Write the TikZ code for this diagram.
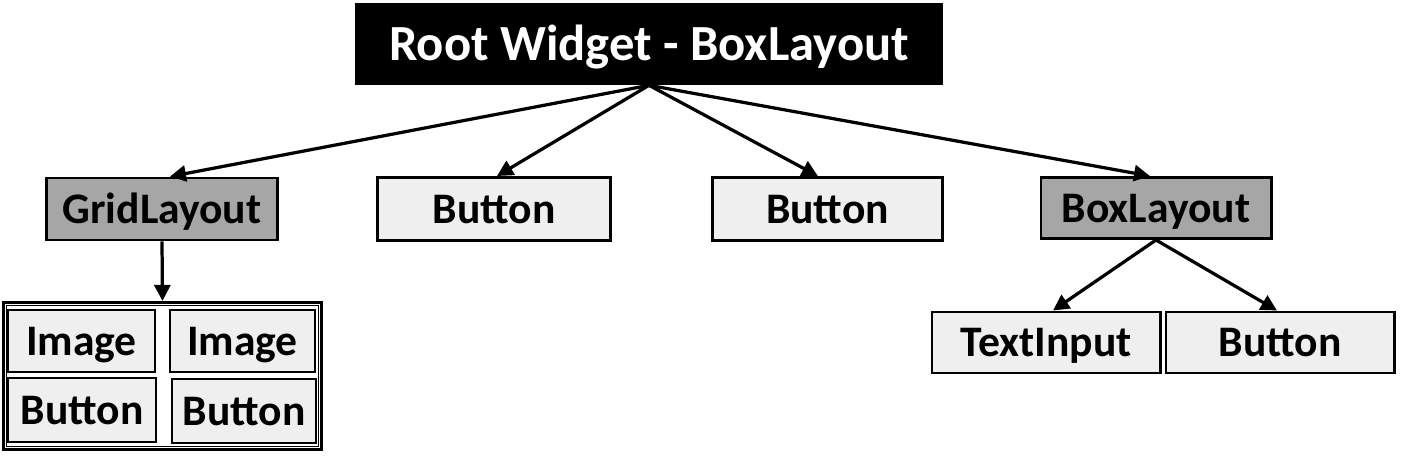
\documentclass[tikz,border=0pt]{standalone}
\usepackage{fontspec}
\setmainfont{Carlito}
\usepackage{tikz}
\usetikzlibrary{arrows.meta,positioning}
\definecolor{clayout}{RGB}{166,166,166}
\definecolor{cwidget}{RGB}{239,239,239}

\begin{document}
\begin{tikzpicture}[x=0.025cm, y=-0.025cm,
    widget/.style={draw, line width=2.1pt, fill=cwidget, inner sep=0pt,
      text height=20pt, text depth=0pt,
      font=\fontsize{31}{36}\selectfont\bfseries},
    layout/.style={widget, fill=clayout},
    link/.style={-{Triangle[length=4mm, width=4mm]}, line width=2.3pt}]
    \useasboundingbox (0,0) rectangle (1401,455);
    % root
    \node[fill=black, text=white, minimum width=14.7cm, minimum height=2.05cm,
      inner sep=0pt, text height=23pt, text depth=0pt,
      font=\fontsize{36}{42}\selectfont\bfseries] (root) at (649,44) {Root Widget - BoxLayout};
    % first row
    \node[layout, minimum width=5.75cm, minimum height=1.55cm] (grid) at (162,209) {GridLayout};
    \node[widget, minimum width=5.8cm, minimum height=1.575cm] (btnA) at (494,209) {Button};
    \node[widget, minimum width=5.75cm, minimum height=1.575cm] (btnB) at (827.5,209) {Button};
    \node[layout, minimum width=5.75cm, minimum height=1.525cm] (box) at (1156,208) {BoxLayout};
    % grid contents
    \node[draw, line width=2.1pt, fill=white,
      minimum width=7.95cm, minimum height=3.68cm] (cells) at (162.5,376) {};
    \draw[line width=0.7pt] ([xshift=0.12cm,yshift=-0.12cm]cells.north west)
      rectangle ([xshift=-0.12cm,yshift=0.12cm]cells.south east);
    \node[widget, minimum width=3.675cm, minimum height=1.55cm] (imgA) at (81.5,341) {Image};
    \node[widget, minimum width=3.625cm, minimum height=1.55cm] (imgB) at (242.5,341) {Image};
    \node[widget, minimum width=3.7cm, minimum height=1.6cm] (btnC) at (82,410) {Button};
    \node[widget, minimum width=3.6cm, minimum height=1.6cm] (btnD) at (244,411) {Button};
    % box contents
    \node[widget, minimum width=5.7cm, minimum height=1.525cm] (text) at (1046,342.5) {TextInput};
    \node[widget, minimum width=5.7cm, minimum height=1.525cm] (btnE) at (1280,342.5) {Button};
    % links
    \draw[link] (root.south) -- ([xshift=0.2cm]grid.north);
    \draw[link] (root.south) -- ([xshift=0.075cm]btnA.north);
    \draw[link] (root.south) -- ([xshift=-0.24cm]btnB.north);
    \draw[link] (root.south) -- ([xshift=-0.15cm]box.north);
    \draw[link] (grid.south) -- (cells.north);
    \draw[link] (box.south) -- ([xshift=0.175cm]text.north);
    \draw[link] (box.south) -- ([xshift=-0.075cm]btnE.north);
  \end{tikzpicture}
\end{document}
